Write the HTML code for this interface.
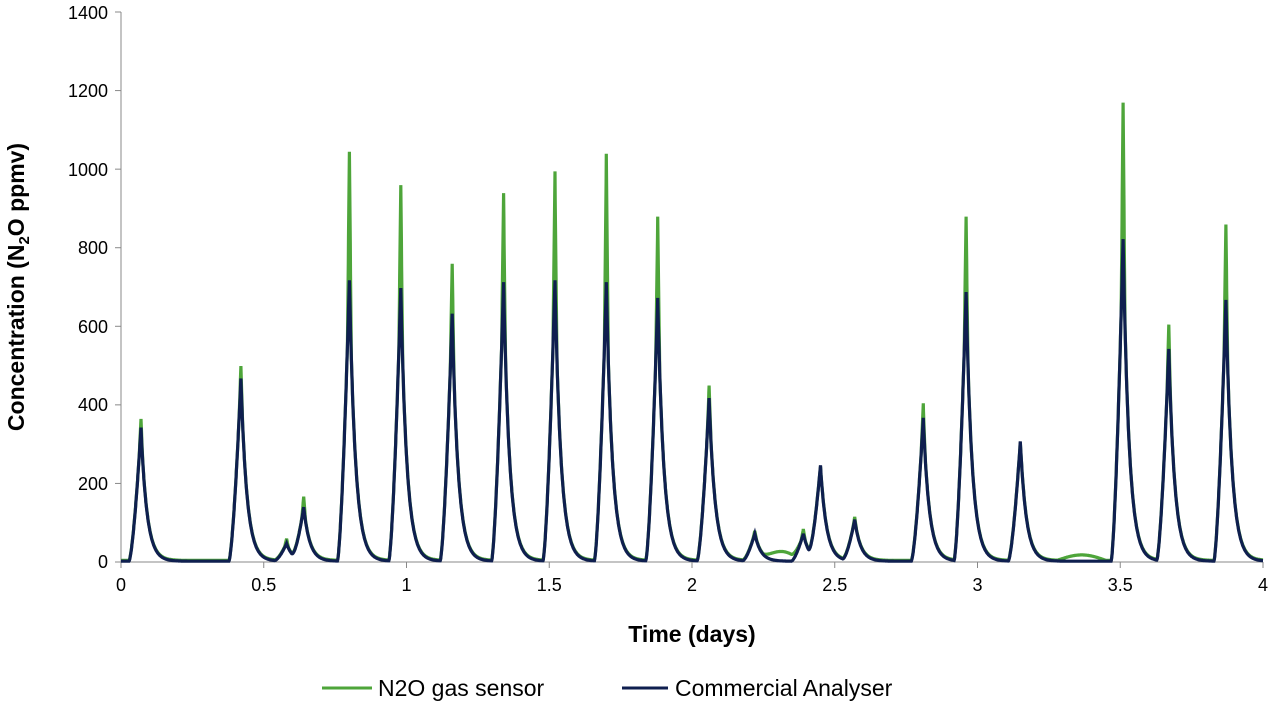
<!DOCTYPE html>
<html><head><meta charset="utf-8"><style>
body{margin:0;background:#fff;}
svg{display:block;font-family:"Liberation Sans",Arial,sans-serif;}
</style></head><body>
<svg id="s" width="1274" height="707" viewBox="0 0 1274 707">
<g fill="#000" font-size="18" text-anchor="end">
<text x="108" y="568">0</text>
<text x="108" y="490">200</text>
<text x="108" y="411">400</text>
<text x="108" y="333">600</text>
<text x="108" y="254">800</text>
<text x="108" y="176">1000</text>
<text x="108" y="97">1200</text>
<text x="108" y="19">1400</text>
</g>
<g fill="#000" font-size="18" text-anchor="middle">
<text x="121" y="591">0</text>
<text x="263.75" y="591">0.5</text>
<text x="406.5" y="591">1</text>
<text x="549.25" y="591">1.5</text>
<text x="692" y="591">2</text>
<text x="834.75" y="591">2.5</text>
<text x="977.5" y="591">3</text>
<text x="1120.25" y="591">3.5</text>
<text x="1263" y="591">4</text>
</g>
<text x="692" y="642" font-size="23" font-weight="bold" text-anchor="middle">Time (days)</text>
<text transform="translate(24,287) rotate(-90)" font-size="23" font-weight="bold" text-anchor="middle">Concentration (N<tspan font-size="15" dy="5">2</tspan><tspan dy="-5">O ppmv)</tspan></text>
<line x1="121" y1="12" x2="121" y2="562" stroke="#888" stroke-width="1"/>
<line x1="121" y1="562" x2="1263" y2="562" stroke="#888" stroke-width="1"/>
<g id="ticks" stroke="#888"></g>
<path id="g" fill="none" stroke="#4ea53a" stroke-width="3.2"/>
<path id="b" fill="none" stroke="#0f1f4f" stroke-width="3.2"/>
<line x1="322" y1="688" x2="372" y2="688" stroke="#4ea53a" stroke-width="3"/>
<text x="378" y="696" font-size="23">N2O gas sensor</text>
<line x1="622" y1="688" x2="668" y2="688" stroke="#0f1f4f" stroke-width="3"/>
<text x="675" y="696" font-size="23">Commercial Analyser</text>
</svg>
<script>
var P=[[0.07,360,340],[0.42,495,465],[0.58,55,45],[0.64,160,135],[0.80,1040,715],[0.98,955,695],[1.16,755,630],[1.34,935,710],[1.52,990,715],[1.70,1035,710],[1.88,875,670],[2.06,445,415],[2.22,75,70],[2.39,80,70],[2.45,235,240],[2.57,110,105],[2.81,400,365],[2.96,875,685],[3.15,300,305],[3.51,1165,820],[3.67,600,540],[3.87,855,665]];
function X(t){return 121+t*285.5;}function Y(v){return 562-v*550/1400;}
function f(dt){if(dt<0){var u=1+dt/0.042;if(u<=0)return 0;return Math.pow(u,1.5);}
return Math.exp(-dt/0.021);}
function sp(dt){return Math.max(0,1-Math.abs(dt)/0.007);}
var gp="",bp="";
for(var i=0;i<=4000;i++){var t=i/1000,g=4,b=2;
for(var k=0;k<P.length;k++){var p=P[k],dt=t-p[0];if(Math.abs(dt)>0.4)continue;
var base=p[2]*f(dt);b+=base;g+=base+(p[1]-p[2])*sp(dt);}
if(t>2.25&&t<2.38)g+=22*Math.sin((t-2.25)/0.13*Math.PI);if(t>3.28&&t<3.45)g+=14*Math.sin((t-3.28)/0.17*Math.PI);
gp+=(i?"L":"M")+X(t).toFixed(1)+" "+Y(g).toFixed(1);
bp+=(i?"L":"M")+X(t).toFixed(1)+" "+Y(b).toFixed(1);}
document.getElementById("g").setAttribute("d",gp);
document.getElementById("b").setAttribute("d",bp);
var tk="";for(var j=0;j<=8;j++){var x=121+j*142.75;tk+='<line x1="'+x+'" y1="562" x2="'+x+'" y2="568"/>';}
for(var j=0;j<=7;j++){var y=562-j*78.57;tk+='<line x1="115" y1="'+y+'" x2="121" y2="'+y+'"/>';}
document.getElementById("ticks").innerHTML=tk;
</script>
</body></html>
